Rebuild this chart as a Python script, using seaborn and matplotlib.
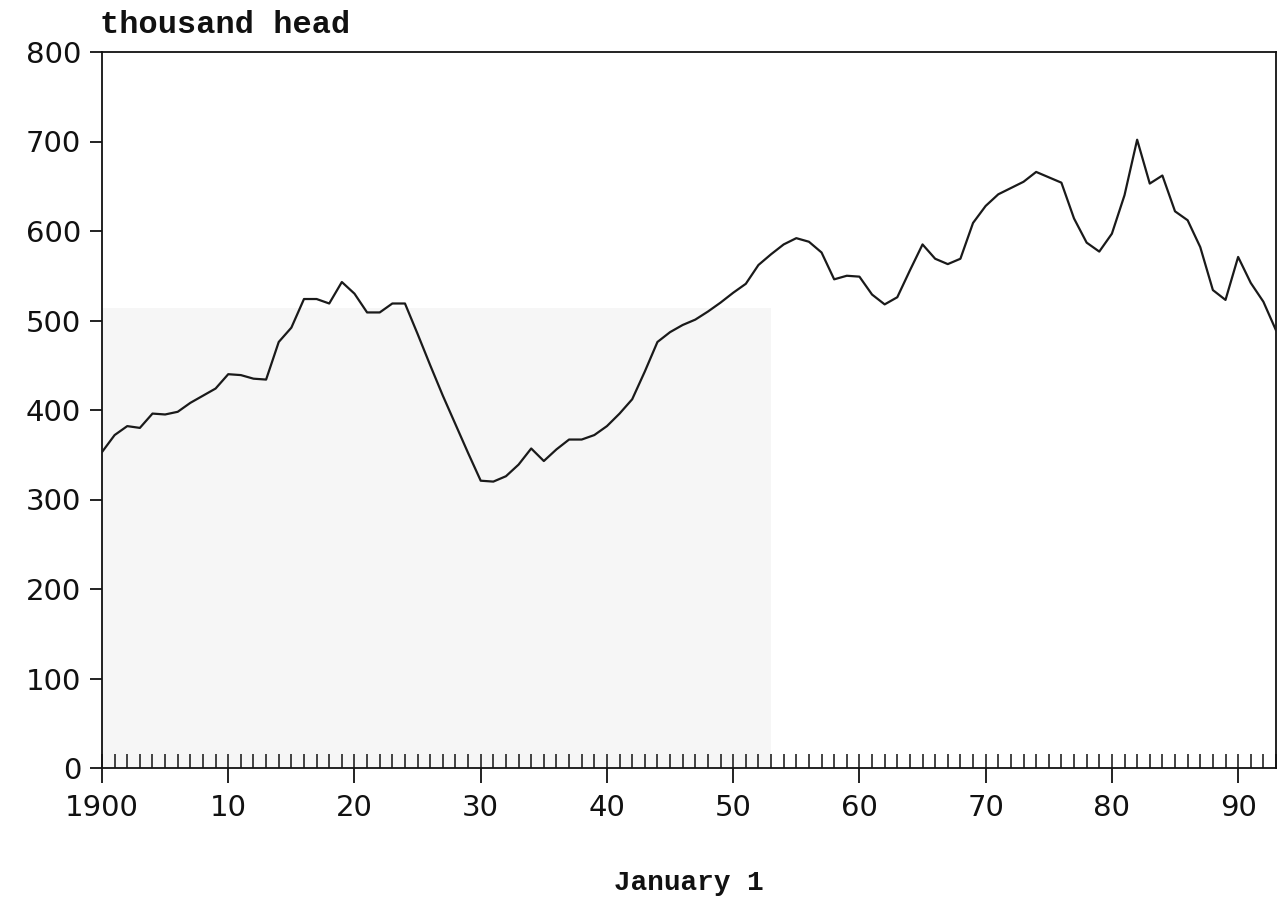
import matplotlib
matplotlib.use("Agg")
import matplotlib.pyplot as plt
import seaborn as sns
import pandas as pd
from matplotlib.ticker import MultipleLocator, FixedLocator

years = list(range(1900, 1994))
head = [353, 372, 382, 380, 396, 395, 398, 408, 416, 424,
        440, 439, 435, 434, 476, 492, 524, 524, 519, 543,
        530, 509, 509, 519, 519, 485, 450, 416, 384, 352,
        321, 320, 326, 339, 357, 343, 356, 367, 367, 372,
        382, 396, 412, 443, 476, 487, 495, 501, 510, 520,
        531, 541, 562, 574, 585, 592, 588, 576, 546, 550,
        549, 529, 518, 526, 556, 585, 569, 563, 569, 609,
        628, 641, 648, 655, 666, 660, 654, 614, 587, 577,
        597, 640, 702, 653, 662, 622, 612, 582, 534, 523,
        571, 542, 521, 489]

x_tick_values = [1900, 1910, 1920, 1930, 1940, 1950, 1960, 1970, 1980, 1990]
x_tick_labels = ["1900", "10", "20", "30", "40", "50", "60", "70", "80", "90"]
y_tick_values = [0, 100, 200, 300, 400, 500, 600, 700, 800]

df = pd.DataFrame({"year": years, "head": head})

sns.set_theme(style="ticks")
plt.rcParams["font.family"] = ["DejaVu Sans"]

fig = plt.figure(figsize=(12.81, 8.98), dpi=100)
ax = fig.add_axes([102 / 1281, 1 - 768 / 898, (1276 - 102) / 1281, (768 - 52) / 898])

# faint scan-tone background region
ax.fill_between([1900, 1953], 0, 514, color="#f6f6f6", lw=0, zorder=0)

sns.lineplot(data=df, x="year", y="head", ax=ax, color="#1a1a1a", linewidth=1.6, zorder=3)

ax.set_xlim(1900, 1993)
ax.set_ylim(0, 800)

ax.xaxis.set_major_locator(FixedLocator(x_tick_values))
ax.set_xticklabels(x_tick_labels)
ax.xaxis.set_minor_locator(MultipleLocator(1))
ax.xaxis.remove_overlapping_locs = False
ax.tick_params(axis="x", which="major", direction="out", length=11, width=1.3,
               labelsize=21, pad=8, colors="#111111")
ax.tick_params(axis="x", which="minor", direction="in", length=10, width=1.1,
               colors="#111111")

ax.set_yticks(y_tick_values)
ax.tick_params(axis="y", which="major", direction="out", length=9, width=1.3,
               labelsize=21, pad=6, colors="#111111")

for s in ax.spines.values():
    s.set_visible(True)
    s.set_color("#111111")
    s.set_linewidth(1.3)

ax.set_xlabel("January 1", fontsize=20, family=["Liberation Mono"], fontweight="bold",
              labelpad=34, color="#111111")
ax.set_ylabel("")
fig.text(100 / 1281, 1 - 33 / 898, "thousand head", fontsize=23, family=["Liberation Mono"],
         fontweight="bold", color="#111111", ha="left", va="baseline")

fig.savefig("out.png", dpi=100, facecolor="white")
